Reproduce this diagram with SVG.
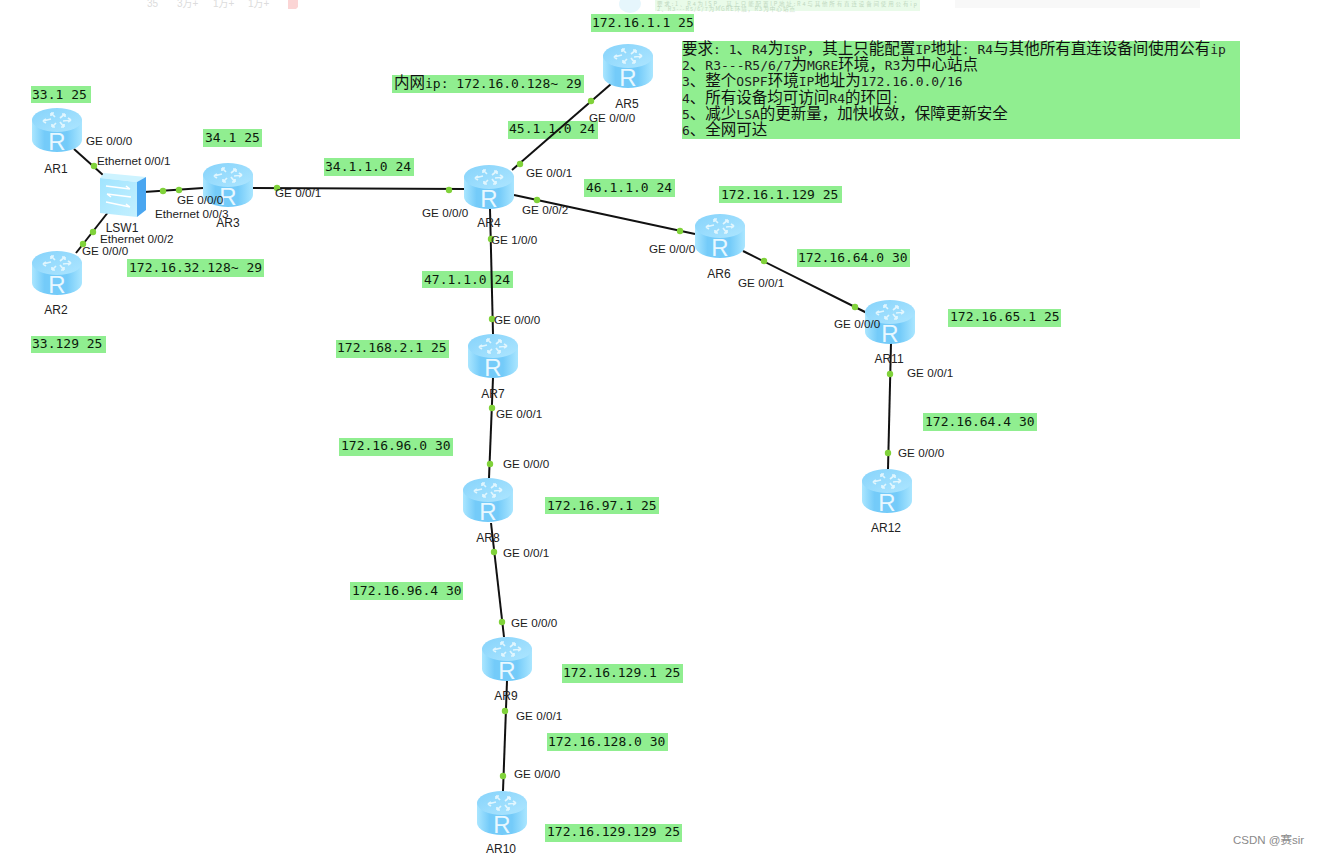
<svg xmlns="http://www.w3.org/2000/svg" width="1317" height="855" viewBox="0 0 1317 855">
<style>
.bg{fill:#90ee90}
.ip{font:13px "DejaVu Sans Mono","Noto Sans CJK SC",monospace;fill:#0c1a0c}
.req{font:13px "DejaVu Sans Mono","Noto Sans CJK SC",monospace;fill:#222}
.cjk{font:15.5px "Noto Sans CJK SC",sans-serif;fill:#111}
.port{font:11.7px "Liberation Sans",Arial,sans-serif;fill:#1c1c1c}
.name{font:12px "Liberation Sans",Arial,sans-serif;fill:#222;text-anchor:middle}
.link{stroke:#111;stroke-width:2;fill:none}
.dot{fill:#80d23a}
.fade{font:10px "Liberation Sans","Noto Sans CJK SC",sans-serif;fill:#dcdcdc}
.fadem{font:5.5px "Noto Sans CJK SC",sans-serif;fill:#c0d8c0}
</style>
<defs>
<linearGradient id="side" x1="0" x2="1" y1="0" y2="0">
<stop offset="0" stop-color="#aae6ff"/><stop offset=".25" stop-color="#74cbf9"/><stop offset=".7" stop-color="#74cbf9"/><stop offset="1" stop-color="#aae6ff"/>
</linearGradient>
<linearGradient id="top" x1="0" x2="1" y1="0" y2="1">
<stop offset="0" stop-color="#86d3fb"/><stop offset="1" stop-color="#aee6ff"/>
</linearGradient>
<linearGradient id="front" x1="0" x2="1" y1="0" y2="1">
<stop offset="0" stop-color="#a0e4ff"/><stop offset="1" stop-color="#c4f0ff"/>
</linearGradient>
<g id="router">
<path d="M-25,-11V10A25,12 0 0 0 25,10V-11Z" fill="url(#side)"/>
<ellipse cx="0" cy="-10" rx="25" ry="12" fill="url(#top)"/>
<g stroke="#e9f9ff" stroke-width="1.7" fill="none" opacity=".9">
<path d="M-14,-9l8,-2M-14,-9l3,-2M-14,-9l3,2"/><path d="M-6,-17l4,4M-6,-17l3,0M-6,-17l0,3"/><path d="M8,-16l-5,4M8,-16l-3,0M8,-16l0,3"/><path d="M14,-10l-8,1M14,-10l-3,-2M14,-10l-3,2"/><path d="M7,-3l-4,-5M7,-3l-3,0M7,-3l0,-3"/><path d="M-5,-3l4,-4M-5,-3l3,0M-5,-3l0,-3"/>
</g>
<text x="0" y="20" text-anchor="middle" font-family="Liberation Sans,Arial,sans-serif" font-size="24" fill="#e8f8ff">R</text>
</g>
<g id="sw">
<path d="M5,0L47,4L38,9L1,5Z" fill="#cdf3ff"/>
<path d="M1,5L38,9V44L1,40Z" fill="url(#front)"/>
<path d="M38,9L47,4V37L38,44Z" fill="#4aa6f0"/>
<path d="M7,13L31,16M31,16l-4,-3M32,24L8,21M8,21l4,3M7,29L31,34M31,34l-4,-3" stroke="#fff" stroke-width="1.5" fill="none"/>
</g>
</defs>
<rect width="1317" height="855" fill="#fff"/>
<g id="faded-top">
<rect x="955" y="0" width="245" height="8" fill="#f8f8f8"/>
<rect x="655" y="0" width="265" height="11" fill="#e9fbe9"/>
<ellipse cx="630" cy="4" rx="11" ry="9" fill="#e6f6fc"/>
<text class="fade" x="147" y="7">35</text><text class="fade" x="177" y="7">3万+</text><text class="fade" x="213" y="7">1万+</text><text class="fade" x="248" y="7">1万+</text>
<path d="M288,0h10v7l-2,2h-8z" fill="#fbd5d5"/>
<text class="fadem" x="657" y="5.5" textLength="260" lengthAdjust="spacing">要求:1、R4为ISP&#xFF0C;其上只能配置IP地址:R4与其他所有直连设备间使用公有ip</text>
<text class="fadem" x="657" y="11" textLength="138" lengthAdjust="spacing">2、R3---R5/6/7为MGRE环境&#xFF0C;R3为中心站点</text>
</g>
<g id="labels">
<g class="bg">
<rect x="31" y="86" width="60" height="17"/><rect x="31" y="336" width="75" height="17"/><rect x="203" y="129" width="59" height="18"/><rect x="127" y="259" width="137" height="18"/><rect x="324" y="158" width="90" height="18"/><rect x="392" y="75" width="192" height="18"/><rect x="508" y="121" width="90" height="18"/><rect x="584" y="179" width="91" height="18"/><rect x="422" y="271" width="91" height="17"/><rect x="336" y="340" width="113" height="18"/><rect x="339" y="438" width="114" height="18"/><rect x="545" y="497" width="114" height="17"/><rect x="350" y="582" width="113" height="18"/><rect x="562" y="664" width="121" height="19"/><rect x="547" y="733" width="121" height="18"/><rect x="545" y="824" width="137" height="18"/><rect x="719" y="186" width="123" height="17"/><rect x="797" y="249" width="113" height="18"/><rect x="948" y="309" width="113" height="18"/><rect x="923" y="413" width="114" height="18"/><rect x="591" y="14" width="103" height="18"/><rect x="682" y="41" width="558" height="98"/>
</g>
</g>
<g id="connectors">
<g class="link">
<path d="M74,149L103,175"/><path d="M76,253L109,211"/><path d="M144,192L203,188"/><path d="M253,188L464,189"/><path d="M512,170L611,84"/><path d="M514,195L695,234"/><path d="M490,209L493,334"/><path d="M743,251L867,313"/><path d="M891,343L888,469"/><path d="M493,378L489,478"/><path d="M491,523L504,637"/><path d="M507,681L503,791"/>
</g>
<g class="dot">
<circle cx="94" cy="166" r="3.2"/><circle cx="93" cy="232" r="3.2"/><circle cx="83" cy="244" r="3.2"/><circle cx="163" cy="191" r="3.2"/><circle cx="179" cy="190" r="3.2"/><circle cx="277" cy="188" r="3.2"/><circle cx="449" cy="190" r="3.2"/><circle cx="520" cy="164" r="3.2"/><circle cx="591" cy="101" r="3.2"/><circle cx="537" cy="200" r="3.2"/><circle cx="680" cy="231" r="3.2"/><circle cx="491" cy="239" r="3.2"/><circle cx="492" cy="319" r="3.2"/><circle cx="764" cy="261" r="3.2"/><circle cx="855" cy="307" r="3.2"/><circle cx="890" cy="374" r="3.2"/><circle cx="888" cy="453" r="3.2"/><circle cx="492" cy="408" r="3.2"/><circle cx="490" cy="464" r="3.2"/><circle cx="494" cy="552" r="3.2"/><circle cx="502" cy="622" r="3.2"/><circle cx="505" cy="711" r="3.2"/><circle cx="503" cy="776" r="3.2"/>
</g>
</g>
<g id="AR1"><use href="#router" x="57" y="130"/><text class="name" x="56" y="173">AR1</text></g>
<g id="AR2"><use href="#router" x="57" y="273"/><text class="name" x="56" y="314">AR2</text></g>
<g id="AR3"><use href="#router" x="228" y="185"/><text class="name" x="228" y="227">AR3</text></g>
<g id="AR4"><use href="#router" x="489" y="187"/><text class="name" x="489" y="227">AR4</text></g>
<g id="AR5"><use href="#router" x="628" y="66"/><text class="name" x="627" y="108">AR5</text></g>
<g id="AR6"><use href="#router" x="720" y="236"/><text class="name" x="719" y="278">AR6</text></g>
<g id="AR7"><use href="#router" x="493" y="356"/><text class="name" x="493" y="398">AR7</text></g>
<g id="AR8"><use href="#router" x="488" y="500"/><text class="name" x="488" y="542">AR8</text></g>
<g id="AR9"><use href="#router" x="507" y="659"/><text class="name" x="506" y="700">AR9</text></g>
<g id="AR10"><use href="#router" x="502" y="813"/><text class="name" x="501" y="853">AR10</text></g>
<g id="AR11"><use href="#router" x="890" y="322"/><text class="name" x="889" y="363">AR11</text></g>
<g id="AR12"><use href="#router" x="887" y="491"/><text class="name" x="886" y="532">AR12</text></g>
<g id="LSW1"><use href="#sw" x="99" y="173"/><text class="name" x="122" y="232">LSW1</text></g>
<g id="port-labels" class="port">
<text x="86" y="145">GE 0/0/0</text><text x="97" y="165">Ethernet 0/0/1</text><text x="100" y="243">Ethernet 0/0/2</text><text x="82" y="255">GE 0/0/0</text><text x="177" y="204">GE 0/0/0</text><text x="155" y="218">Ethernet 0/0/3</text><text x="275" y="197">GE 0/0/1</text><text x="422" y="217">GE 0/0/0</text><text x="526" y="177">GE 0/0/1</text><text x="522" y="214">GE 0/0/2</text><text x="491" y="244">GE 1/0/0</text><text x="494" y="324">GE 0/0/0</text><text x="589" y="122">GE 0/0/0</text><text x="649" y="253">GE 0/0/0</text><text x="738" y="287">GE 0/0/1</text><text x="834" y="328">GE 0/0/0</text><text x="907" y="377">GE 0/0/1</text><text x="898" y="457">GE 0/0/0</text><text x="496" y="418">GE 0/0/1</text><text x="503" y="468">GE 0/0/0</text><text x="503" y="557">GE 0/0/1</text><text x="511" y="627">GE 0/0/0</text><text x="516" y="720">GE 0/0/1</text><text x="514" y="778">GE 0/0/0</text>
</g>
<g id="ip-labels" class="ip">
<text x="32" y="99">33.1 25</text><text x="32" y="348">33.129 25</text><text x="205" y="142">34.1 25</text><text x="129" y="272">172.16.32.128~ 29</text><text x="325" y="171">34.1.1.0 24</text><text x="394" y="88"><tspan class="cjk">内网</tspan>ip: 172.16.0.128~ 29</text><text x="509" y="133">45.1.1.0 24</text><text x="586" y="192">46.1.1.0 24</text><text x="424" y="284">47.1.1.0 24</text><text x="337" y="352">172.168.2.1 25</text><text x="341" y="450">172.16.96.0 30</text><text x="547" y="510">172.16.97.1 25</text><text x="352" y="595">172.16.96.4 30</text><text x="563" y="677">172.16.129.1 25</text><text x="548" y="746">172.16.128.0 30</text><text x="547" y="836">172.16.129.129 25</text><text x="721" y="199">172.16.1.129 25</text><text x="798" y="262">172.16.64.0 30</text><text x="950" y="321">172.16.65.1 25</text><text x="925" y="426">172.16.64.4 30</text><text x="592" y="27">172.16.1.1 25</text>
</g>
<g id="requirements" class="req">
<text x="682" y="54"><tspan class="cjk">要求</tspan>: 1<tspan class="cjk">、</tspan>R4<tspan class="cjk">为</tspan>ISP<tspan class="cjk">&#xFF0C;其上只能配置</tspan>IP<tspan class="cjk">地址</tspan>: R4<tspan class="cjk">与其他所有直连设备间使用公有</tspan>ip</text>
<text x="682" y="70">2<tspan class="cjk">、</tspan>R3---R5/6/7<tspan class="cjk">为</tspan>MGRE<tspan class="cjk">环境&#xFF0C;</tspan>R3<tspan class="cjk">为中心站点</tspan></text>
<text x="682" y="86">3<tspan class="cjk">、整个</tspan>OSPF<tspan class="cjk">环境</tspan>IP<tspan class="cjk">地址为</tspan>172.16.0.0/16</text>
<text x="682" y="103">4<tspan class="cjk">、所有设备均可访问</tspan>R4<tspan class="cjk">的环回</tspan>:</text>
<text x="682" y="119">5<tspan class="cjk">、减少</tspan>LSA<tspan class="cjk">的更新量&#xFF0C;加快收敛&#xFF0C;保障更新安全</tspan></text>
<text x="682" y="135">6<tspan class="cjk">、全网可达</tspan></text>
</g>
<text id="watermark" x="1233" y="844" font-family="Liberation Sans,Noto Sans CJK SC,sans-serif" font-size="11.5" fill="#8a8a8a">CSDN @赛sir</text>
</svg>
